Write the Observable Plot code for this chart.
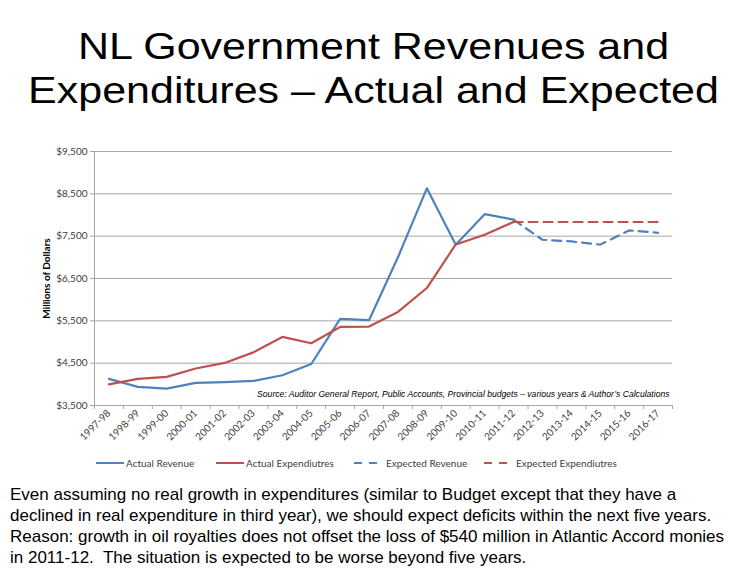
<!DOCTYPE html>
<html>
<head>
<meta charset="utf-8">
<script src="https://cdn.jsdelivr.net/npm/d3@7"></script>
<script src="https://cdn.jsdelivr.net/npm/@observablehq/plot@0.6"></script>
<style>
  html, body { margin: 0; padding: 0; background: #fff; }
  #page { position: relative; width: 747px; height: 572px; overflow: hidden; font-family: "Liberation Sans", Arial, sans-serif; }
  #title { position: absolute; left: 0; top: 25px; width: 747px; text-align: center; font-size: 43px; line-height: 51px; color: #000; transform: scaleY(0.86); transform-origin: top center; white-space: nowrap; }
  #chart { position: absolute; left: 0; top: 130px; }
  #chart svg [aria-label="y-axis label"] text, #chart svg [aria-label="y-axis label"] { font-weight: bold; fill: #000; font-size: 10px; }
  #legend { position: absolute; top: 456px; left: 0; width: 747px; height: 14px; font-family: Lato, "Open Sans", sans-serif; font-size: 10px; color: #404040; }
  .item { position: absolute; display: flex; align-items: center; height: 14px; }
  #note { position: absolute; left: 10px; top: 484px; width: 737px; font-size: 17px; line-height: 21px; color: #000; white-space: nowrap; }
</style>
</head>
<body>
<div id="page">
  <div id="title">NL Government Revenues and<br>Expenditures – Actual and Expected</div>
  <div id="chart"></div>
  <div id="legend"></div>
  <div id="note">Even assuming no real growth in expenditures (similar to Budget except that they have a<br>declined in real expenditure in third year), we should expect deficits within the next five years.<br>Reason: growth in oil royalties does not offset the loss of $540 million in Atlantic Accord monies<br>in 2011-12.&nbsp; The situation is expected to be worse beyond five years.</div>
</div>
<script>
// Fiscal years shown on the category axis
const years = ["1997-98","1998-99","1999-00","2000-01","2001-02","2002-03","2003-04","2004-05",
  "2005-06","2006-07","2007-08","2008-09","2009-10","2010-11","2011-12","2012-13","2013-14",
  "2014-15","2015-16","2016-17"];

// Millions of dollars, 1997-98 through 2011-12
const actualRevenue = [4130,3940,3900,4035,4050,4080,4215,4480,5545,5515,7000,8630,7300,8020,7890];
const actualExpenditures = [4000,4130,4175,4375,4505,4755,5120,4970,5355,5365,5710,6275,7305,7535,7835];

// Projections, 2011-12 through 2016-17
const expectedStart = "2011-12";
const expectedRevenue = [7890,7415,7375,7300,7635,7580];
const expectedExpenditures = [7835,7835,7835,7835,7835,7835];

const yTicks = [3500,4500,5500,6500,7500,8500,9500];
const sourceNote = "Source: Auditor General Report, Public Accounts, Provincial budgets – various years & Author’s Calculations";

const blue = "#4f81bd", red = "#c0504d";

// Each year sits in the middle of its own unit-wide slot on a linear index scale
const slot = (y) => years.indexOf(y) + 0.5;
const startIdx = years.indexOf(expectedStart);
const toRows = (vals, offset) => vals.map((v, i) => ({x: offset + i + 0.5, v}));

const series = [
  {name: "Actual Revenue", rows: toRows(actualRevenue, 0), color: blue, dash: null},
  {name: "Actual Expendiutres", rows: toRows(actualExpenditures, 0), color: red, dash: null},
  {name: "Expected Revenue", rows: toRows(expectedRevenue, startIdx), color: blue, dash: "9,6"},
  {name: "Expected Expendiutres", rows: toRows(expectedExpenditures, startIdx), color: red, dash: "9,6"}
];

const fmt = d3.format(",");
const boundaries = d3.range(0, years.length + 1);
const centers = years.map(slot);

const chart = Plot.plot({
  width: 747,
  height: 320,
  marginTop: 21,
  marginBottom: 45,
  marginLeft: 94,
  marginRight: 75,
  style: {fontFamily: "Lato, 'Open Sans', sans-serif", fontSize: "10px", color: "#404040", background: "transparent"},
  x: {type: "linear", domain: [0, years.length]},
  y: {domain: [3500, 9500]},
  marks: [
    Plot.gridY(yTicks, {stroke: "#a6a6a6", strokeOpacity: 1}),
    Plot.ruleX([0], {stroke: "#a6a6a6"}),
    Plot.ruleY([3500], {stroke: "#a6a6a6"}),
    Plot.axisY({
      ticks: yTicks, tickFormat: (d) => "$" + fmt(d), tickSize: 4, tickPadding: 3,
      stroke: "#a6a6a6", label: "Millions of Dollars", labelAnchor: "center", labelOffset: 52, labelArrow: "none"
    }),
    Plot.axisX({ticks: boundaries, tickFormat: () => "", tickSize: 4, stroke: "#a6a6a6", label: null}),
    Plot.axisX({ticks: centers, tickFormat: (d) => years[Math.round(d - 0.5)], tickSize: 0, tickPadding: 6, tickRotate: -45, label: null}),
    Plot.text([sourceNote], {
      frameAnchor: "bottom-right", dx: -3, dy: -9, fontStyle: "italic",
      fontFamily: "'Liberation Sans', Arial, sans-serif", fontSize: 8.6, fill: "#000"
    }),
    ...series.map((s) => Plot.lineY(s.rows, {
      x: "x", y: "v", stroke: s.color, strokeWidth: 2.2, strokeDasharray: s.dash
    }))
  ]
});
document.getElementById("chart").appendChild(chart);

// Legend row beneath the axis
const legendX = [96, 216, 354, 484];
const legend = document.getElementById("legend");
series.forEach((s, i) => {
  const item = document.createElement("div");
  item.className = "item";
  item.style.left = legendX[i] + "px";
  const swatch = s.dash
    ? `<svg width="32" height="6"><line x1="0" x2="24" y1="3" y2="3" stroke="${s.color}" stroke-width="2" stroke-dasharray="8,7"/></svg>`
    : `<svg width="30" height="6"><line x1="0" x2="28" y1="3" y2="3" stroke="${s.color}" stroke-width="2"/></svg>`;
  item.innerHTML = `${swatch}<span>${s.name}</span>`;
  legend.appendChild(item);
});
</script>
</body>
</html>
